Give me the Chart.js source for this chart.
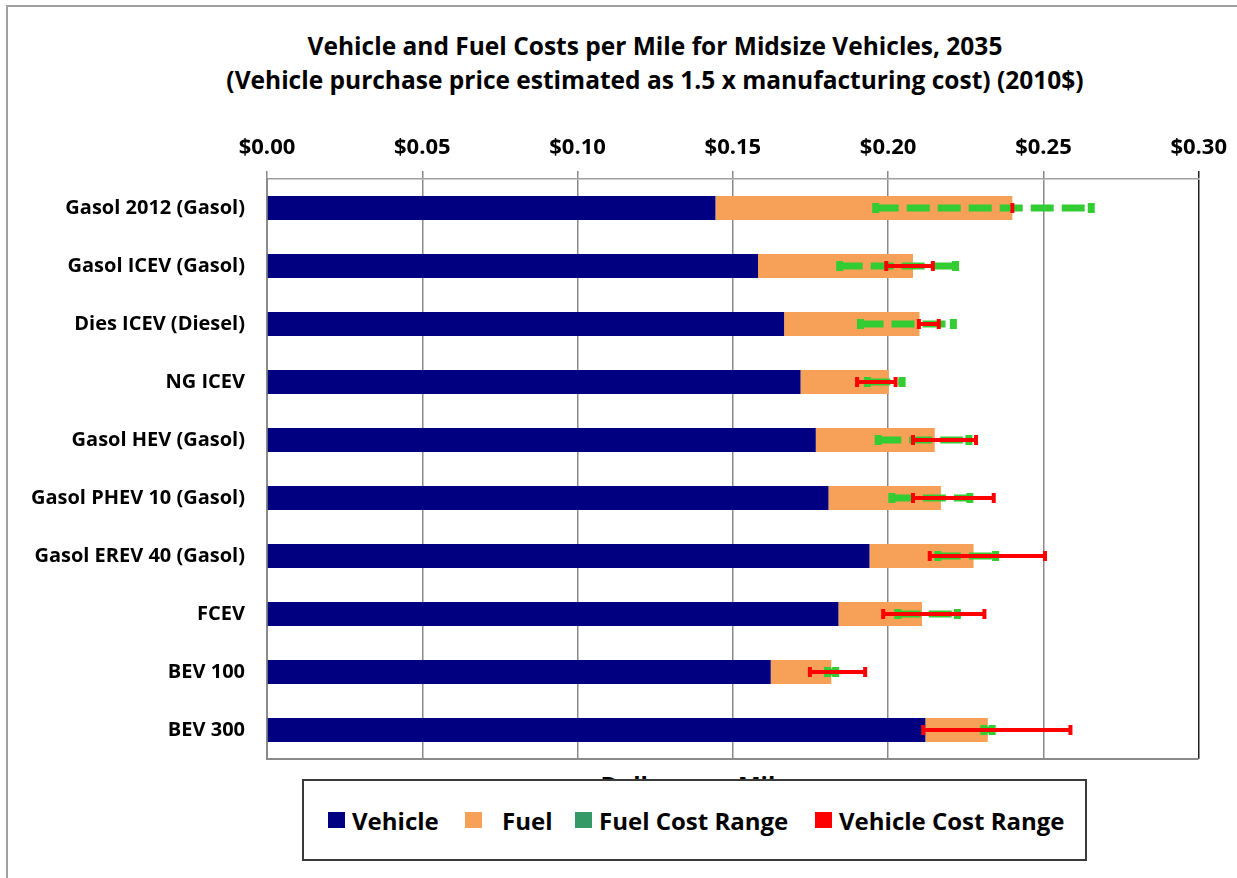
<!DOCTYPE html>
<html>
<head>
<meta charset="utf-8">
<title>Vehicle and Fuel Costs per Mile</title>
<script src="https://cdn.jsdelivr.net/npm/chart.js@4.4.1/dist/chart.umd.min.js"></script>
<style>
    body { margin: 0; background: #fff; font-family: 'Open Sans', sans-serif; }
    #wrap { position: relative; width: 1237px; height: 878px; overflow: hidden; }
    #frame { position: absolute; left: 6px; top: 5px; width: 1400px; height: 1000px; border: 2px solid #a0a0a0; }
    #chart { position: absolute; left: 0; top: 0; }
    #title { position: absolute; left: 0; top: 29px; width: 1310px; text-align: center;
             font-weight: 700; font-size: 24.5px; line-height: 34px; color: #000; }
    #axisTitle { position: absolute; left: 0; top: 770px; width: 1390px; text-align: center;
                 font-weight: 700; font-size: 24px; line-height: 30px; color: #000; }
    #legend { position: absolute; left: 302px; top: 779px; width: 781px; height: 78px;
              border: 2px solid #3a3a3a; background: #fff; }
    .item { position: absolute; top: 0; height: 78px; display: flex; align-items: center;
            font-weight: 700; font-size: 24px; color: #000; white-space: nowrap; }
    .swatch { width: 17px; height: 16px; margin-right: 7px; }
</style>
</head>
<body>
<div id="wrap">
    <div id="frame"></div>
    <div id="title"></div>
    <div id="axisTitle">Dollars per Mile</div>
    <canvas id="chart" width="1237" height="878"></canvas>
    <div id="legend"></div>
</div>
<script>
// Datos (dolares por milla, 2010$)
const categories = [
    'Gasol 2012 (Gasol)', 'Gasol ICEV (Gasol)', 'Dies ICEV (Diesel)', 'NG ICEV',
    'Gasol HEV (Gasol)', 'Gasol PHEV 10 (Gasol)', 'Gasol EREV 40 (Gasol)',
    'FCEV', 'BEV 100', 'BEV 300'
];
const vehicleCost = [0.1444, 0.1581, 0.1665, 0.1718, 0.1767, 0.1808, 0.1940, 0.1840, 0.1622, 0.2120];
const fuelCost    = [0.0956, 0.0499, 0.0436, 0.0284, 0.0383, 0.0362, 0.0335, 0.0269, 0.0195, 0.0201];
const fuelLow     = [0.1960, 0.1844, 0.1911, 0.1933, 0.1968, 0.2012, 0.2160, 0.2031, 0.1805, 0.2308];
const fuelHigh    = [0.2654, 0.2217, 0.2210, 0.2045, 0.2260, 0.2263, 0.2346, 0.2223, 0.1831, 0.2335];
const vehicleLow  = [0.2400, 0.1994, 0.2099, 0.1900, 0.2080, 0.2080, 0.2134, 0.1984, 0.1748, 0.2113];
const vehicleHigh = [0.2400, 0.2144, 0.2163, 0.2024, 0.2283, 0.2340, 0.2505, 0.2310, 0.1926, 0.2587];
const xTickValues = [0, 0.05, 0.10, 0.15, 0.20, 0.25, 0.30];

const titleLines = [
    'Vehicle and Fuel Costs per Mile for Midsize Vehicles, 2035',
    '(Vehicle purchase price estimated as 1.5 x manufacturing cost) (2010$)'
];
const legendItems = [
    { label: 'Vehicle', color: '#000080', left: 24, gap: 7 },
    { label: 'Fuel', color: '#F7A058', left: 161, gap: 20 },
    { label: 'Fuel Cost Range', color: '#339966', left: 271, gap: 7 },
    { label: 'Vehicle Cost Range', color: '#FF0000', left: 511, gap: 7 }
];

/**
 * Dibuja una linea de rango con sus topes
 */
function drawRange(ctx, x1, x2, y, color, width, capHeight, dash) {
    ctx.strokeStyle = color;
    ctx.lineWidth = width;
    ctx.lineCap = 'butt';
    ctx.setLineDash(dash);
    ctx.beginPath();
    ctx.moveTo(x1, y);
    ctx.lineTo(x2, y);
    ctx.stroke();
    ctx.setLineDash([]);
    ctx.beginPath();
    ctx.moveTo(x1, y - capHeight / 2);
    ctx.lineTo(x1, y + capHeight / 2);
    ctx.moveTo(x2, y - capHeight / 2);
    ctx.lineTo(x2, y + capHeight / 2);
    ctx.stroke();
}

// Plugin para los rangos de costo y el borde inferior
const rangePlugin = {
    id: 'ranges',
    afterDatasetsDraw(chart) {
        const { ctx, chartArea, scales: { x, y } } = chart;
        ctx.save();
        ctx.strokeStyle = '#8a8a8a';
        ctx.lineWidth = 2;
        ctx.beginPath();
        ctx.moveTo(chartArea.left, chartArea.bottom);
        ctx.lineTo(chartArea.right, chartArea.bottom);
        ctx.stroke();

        categories.forEach((cat, i) => {
            const py = y.getPixelForValue(i);
            drawRange(ctx, x.getPixelForValue(fuelLow[i]), x.getPixelForValue(fuelHigh[i]),
                py, '#33CC33', 7, 10, [23, 8]);
        });
        categories.forEach((cat, i) => {
            const py = y.getPixelForValue(i);
            drawRange(ctx, x.getPixelForValue(vehicleLow[i]), x.getPixelForValue(vehicleHigh[i]),
                py, '#FF0000', 4, 10, []);
        });
        ctx.restore();
    }
};

/**
 * Construye titulo y leyenda
 */
function buildTexts() {
    document.getElementById('title').innerHTML = titleLines.map(t => `<div>${t}</div>`).join('');
    document.getElementById('legend').innerHTML = legendItems.map(item =>
        `<div class="item" style="left:${item.left}px"><span class="swatch" style="background:${item.color};margin-right:${item.gap}px"></span>${item.label}</div>`
    ).join('');
}

buildTexts();

const ctx = document.getElementById('chart').getContext('2d');
new Chart(ctx, {
    type: 'bar',
    data: {
        labels: categories,
        datasets: [
            {
                label: 'Vehicle',
                data: vehicleCost,
                backgroundColor: '#000080',
                borderWidth: 0
            },
            {
                label: 'Fuel',
                data: fuelCost,
                backgroundColor: '#F7A058',
                borderWidth: 0
            }
        ]
    },
    options: {
        indexAxis: 'y',
        responsive: false,
        animation: false,
        devicePixelRatio: 1,
        layout: { padding: { top: 97, left: 0, right: 38, bottom: 119 } },
        datasets: { bar: { categoryPercentage: 1, barPercentage: 0.41 } },
        plugins: {
            legend: { display: false },
            title: { display: false },
            tooltip: { enabled: false }
        },
        scales: {
            x: {
                position: 'top',
                stacked: true,
                min: 0,
                max: 0.30,
                afterFit: scale => { scale.height = 82; },
                afterBuildTicks: scale => { scale.ticks = xTickValues.map(v => ({ value: v })); },
                ticks: {
                    color: '#000',
                    padding: 10,
                    font: { family: 'Open Sans', size: 22, weight: 'bold' },
                    callback: v => '$' + v.toFixed(2)
                },
                grid: {
                    color: c => (c.tick && c.tick.value >= 0.3 ? '#222' : '#8a8a8a'),
                    lineWidth: 1.5,
                    tickLength: 8,
                    drawTicks: true
                },
                border: { display: true, color: '#a0a0a0', width: 1.5 }
            },
            y: {
                stacked: true,
                afterFit: scale => { scale.width = 267; },
                ticks: {
                    color: '#000',
                    padding: 22,
                    font: { family: 'Open Sans', size: 20, weight: 'bold' }
                },
                grid: { display: false, drawTicks: false },
                border: { display: true, color: '#8a8a8a', width: 2 }
            }
        }
    },
    plugins: [rangePlugin]
});
</script>
</body>
</html>
